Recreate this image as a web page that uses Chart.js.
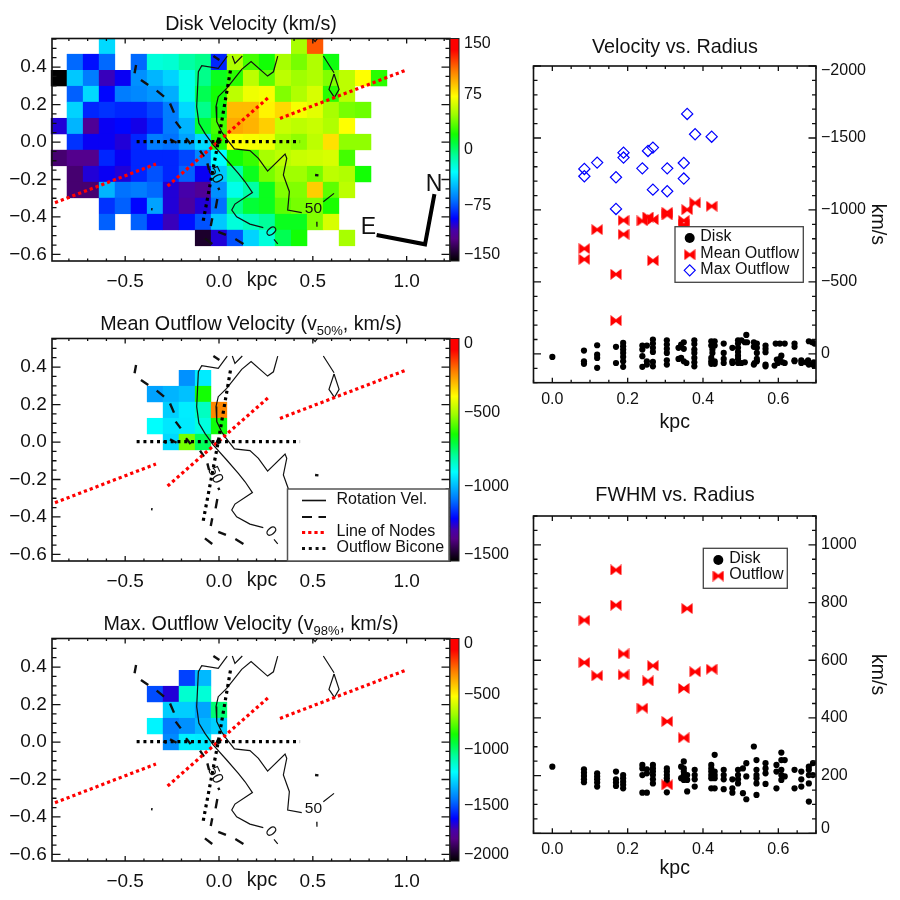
<!DOCTYPE html>
<html><head><meta charset="utf-8">
<script src="https://cdn.jsdelivr.net/npm/chart.js@4/dist/chart.umd.min.js"></script>
<style>html,body{margin:0;padding:0;background:#fff;width:900px;height:900px;overflow:hidden}
canvas{position:absolute}</style></head><body>
<canvas id="c1" width="520" height="300" style="left:0;top:0"></canvas>
<canvas id="c2" width="520" height="300" style="left:0;top:300px"></canvas>
<canvas id="c3" width="520" height="300" style="left:0;top:600px"></canvas>
<canvas id="c4" width="400" height="450" style="left:500px;top:0"></canvas>
<canvas id="c5" width="400" height="450" style="left:500px;top:450px"></canvas>
<script>
// ---------- DATA ----------
const cellX = [-0.853,-0.768,-0.682,-0.597,-0.512,-0.427,-0.341,-0.256,-0.171,-0.085,0,0.085,0.171,0.256,0.341,0.427,0.512,0.597,0.682,0.768,0.853];
const cellY = [0.512,0.427,0.341,0.256,0.171,0.085,0,-0.085,-0.171,-0.256,-0.341,-0.427,-0.512];
const _ = null;
const diskVelocityGrid = [
 [_,_,_,-40,_,_,_,_,_,_,_,_,_,_,_,50,115,_,_,_,_],
 [_,-70,-90,-70,_,-70,-22,-20,-10,-5,-85,52,30,20,50,40,52,18,_,_,_],
 [-150,-45,-65,-105,-95,-60,-50,-42,-25,-5,15,25,55,35,55,48,52,42,55,72,25],
 [_,-72,-40,-92,-65,-62,-58,-52,-25,5,20,55,68,70,42,52,62,25,55,_,_],
 [_,-42,-85,-82,-85,-85,-78,-65,-40,-5,18,90,90,75,82,70,65,50,40,38,_],
 [-100,-50,-115,-95,-92,-97,-85,-65,-50,10,30,95,92,85,58,55,58,52,72,_,_],
 [_,-82,-95,-95,-100,-85,-65,-68,-55,-40,25,72,70,68,50,45,55,80,45,45,_],
 [-125,-118,-118,-85,-95,-85,-85,-85,-78,-62,-30,20,28,50,55,58,60,62,30,_,_],
 [_,-125,-100,-95,-100,-85,-75,-85,-72,-95,-45,-12,15,40,48,48,40,55,52,20,_],
 [_,-125,-125,-50,-68,-65,-70,-100,-108,-115,-60,-25,-10,15,42,42,85,35,55,_,_],
 [_,_,_,-82,-72,-92,-55,-100,-112,-100,-68,-5,10,15,35,40,42,22,_,_,_],
 [_,_,_,-72,_,-72,-90,-105,-90,-75,-45,-22,-15,-8,15,15,42,62,_,_,_],
 [_,_,_,_,_,_,_,_,_,-140,-100,-75,-42,-22,5,20,_,_,50,_,_]
];
const meanOutflowGrid = [
 [_,_,_,_,_,_,_,_,_,_,_],[_,_,_,_,_,_,_,_,_,_,_],
 [_,_,_,_,_,_,_,_,-1049,-926,_],
 [_,_,_,_,_,_,-1026,-1002,-984,-648,_],
 [_,_,_,_,_,_,_,-965,-924,-831,-231],
 [_,_,_,_,_,_,-898,-933,-928,-863,-657],
 [_,_,_,_,_,_,_,-951,-553,-731,_]
];
const maxOutflowGrid = [
 [_,_,_,_,_,_,_,_,_,_,_],[_,_,_,_,_,_,_,_,_,_,_],
 [_,_,_,_,_,_,_,_,-1526,-1326,_],
 [_,_,_,_,_,_,-1509,-1667,-1130,-1141,_],
 [_,_,_,_,_,_,_,-1289,-1289,-1364,-1007],
 [_,_,_,_,_,_,-1218,-1433,-1398,-1329,-1285],
 [_,_,_,_,_,_,_,-1410,-1227,-1234,_]
];
const contourSolid = [[.044,.459],[-.004,.393],[-.092,.407],[-.110,.375],[-.119,.189],[-.107,.100],[-.075,.046],[-.030,-.016],[.041,-.096],[.103,-.167],[.139,-.212],[.178,-.270],[.085,-.331],[.068,-.363],[.094,-.399],[.165,-.438],[.236,-.457],_,
 [.293,-.520],[.313,-.544],_,
 [.313,.459],[.290,.375],[.259,.352],[.171,.429],[.121,.388],[.041,.286],[-.004,.242],[-.016,.189],[-.012,.109],[.014,.055],[.032,.028],[.082,-.037],[.165,-.046],[.210,-.087],[.259,-.155],[.352,-.064],[.361,-.087],[.343,-.176],[.375,-.265],[.366,-.363],[.441,-.377],_,
 [.556,-.319],[.613,-.274],_,
 [.071,.459],[.085,.420],[.124,.459],_,
 [.556,.459],[.613,.370],_,
 [.613,.363],[.586,.281],[.615,.238],[.640,.281],[.613,.363],_,
 [.499,.552],[.512,.536],[.524,.552],_,
 [.521,-.425],[.522,-.452]];
const contourDashed = [[-.442,.411],[-.450,.367],_,[-.416,.331],[-.377,.304],_,[-.332,.274],[-.293,.242],_,[-.261,.206],[-.240,.157],_,[-.231,.109],[-.204,.073],_,
 [-.297,.004],[-.279,-.004],_,[-.261,.014],[-.226,-.004],_,[-.176,.020],[-.151,-.011],_,[-.101,-.046],[-.080,-.078],_,[-.062,-.114],[-.053,-.149],_,
 [-.004,-.244],[.002,-.256],_,[-.009,-.304],[-.018,-.354],_,[-.036,-.407],[-.044,-.448],_,[-.004,-.479],[.037,-.496],_,[.087,-.518],[.130,-.544],_,
 [-.075,-.514],[-.036,-.544],_,[-.030,.459],[.002,.438],_,[.512,-.176],[.530,-.178],_,[-.362,-.358],[-.354,-.359]];
const lineOfNodes = [[-.874,-.324],[-.336,-.117],_,[-.274,-.235],[.268,.242],_,[.325,.126],[.997,.384]];
const outflowBicone = [[-.439,.002],[.432,.002],_,[-.084,-.420],[-.004,.002],[.064,.400]];
const centerPoint = [[-.004,.002]];
const compassLine = [[.840,-.496],[1.098,-.546],[1.148,-.278]];
const contourLabels = [['50',.503,-.358,0],['0',.275,-.479,50],['50',-.021,-.176,65]];

const outflowR = [.085,.085,.119,.169,.169,.189,.189,.239,.254,.267,.267,.305,.305,.349,.349,.358,.379,.423];
const meanOutflowVel = [-731,-657,-863,-553,-231,-928,-831,-924,-951,-933,-648,-984,-965,-926,-898,-1002,-1049,-1026];
const maxOutflowVel = [-1285,-1234,-1329,-1227,-1007,-1398,-1364,-1289,-1410,-1433,-1141,-1289,-1130,-1326,-1218,-1667,-1526,-1509];
const fwhmOutflowR = [.169,.169,.085,.358,.189,.085,.267,.119,.189,.379,.423,.254,.349,.239,.305,.349,.305];
const fwhmOutflow = [913,791,739,779,622,592,581,546,549,560,569,528,502,434,388,331,168];

const diskVelR = [0,.084,.084,.084,.119,.119,.119,.119,.169,.169,.188,.188,.188,.188,.188,.188,.188,.239,.239,.239,.239,.251,.251,.251,.267,.267,.267,.267,.267,.267,.304,.304,.304,.304,.304,.304,.335,.335,.342,.342,.349,.349,.349,.356,.377,.377,.377,.377,.377,.377,.377,.422,.422,.422,.422,.422,.425,.425,.431,.431,.431,.431,.455,.455,.455,.455,.478,.478,.478,.493,.493,.493,.493,.493,.493,.493,.502,.502,.511,.511,.517,.515,.535,.535,.535,.543,.543,.543,.543,.543,.537,.566,.566,.566,.566,.566,.590,.593,.604,.604,.617,.617,.599,.608,.612,.596,.643,.643,.643,.643,.661,.661,.674,.679,.681,.681,.690,.696,.694,.694];
const diskVel = [21,-23,51,69,-60,5,28,97,-49,63,-76,-53,-30,-7,21,51,90,-58,-30,16,90,-58,51,74,-100,-72,-42,-14,56,86,-95,-65,-35,-7,44,74,-42,35,-65,28,-81,-35,51,63,-95,-69,-30,-7,28,58,86,-88,-58,28,51,69,-30,-7,-88,-58,51,69,-72,-7,35,63,-42,51,63,-95,-72,-42,-14,12,35,63,-95,63,-81,58,-81,-132,-81,-49,74,-72,-42,-7,35,51,63,-58,-35,-12,74,86,81,-72,-72,35,-72,63,63,12,58,39,-72,-49,44,51,44,63,58,44,-88,74,-81,-72,58,79];
const diskFwhmR = [0,.084,.084,.084,.084,.084,.119,.119,.119,.119,.119,.169,.169,.169,.169,.188,.188,.188,.188,.188,.239,.239,.239,.239,.251,.251,.251,.267,.267,.267,.267,.267,.267,.304,.304,.304,.304,.304,.304,.349,.349,.349,.349,.349,.342,.342,.358,.358,.358,.378,.378,.378,.378,.431,.422,.422,.422,.422,.422,.422,.431,.431,.431,.431,.455,.455,.455,.455,.478,.478,.478,.493,.493,.493,.493,.515,.515,.515,.506,.506,.535,.542,.542,.542,.542,.542,.542,.566,.566,.566,.566,.595,.595,.595,.608,.608,.608,.608,.608,.617,.617,.643,.643,.661,.661,.661,.681,.681,.681,.681,.681,.692,.692];
const diskFwhm = [231,222,210,199,187,177,208,197,187,176,162,214,187,176,164,202,191,179,168,156,237,225,202,141,208,141,222,237,225,214,202,187,173,225,214,202,191,179,142,249,225,214,202,185,231,191,202,185,145,220,202,187,162,272,237,225,214,202,191,156,214,202,191,156,220,202,187,153,187,156,141,220,202,187,173,243,197,118,225,139,301,254,220,202,191,173,133,243,225,208,171,156,237,214,280,254,220,202,185,254,197,220,156,214,187,162,231,220,202,173,110,243,202];

const xTicksMap = [-0.5,0,0.5,1];
const yTicksMap = [0.4,0.2,0,-0.2,-0.4,-0.6];
const xTicksRadius = [0,0.2,0.4,0.6];
const yTicksVel = [-2000,-1500,-1000,-500,0];
const yTicksFwhm = [0,200,400,600,800,1000];
const barTicks1 = [150,75,0,-75,-150];
const barTicks2 = [0,-500,-1000,-1500];
const barTicks3 = [0,-500,-1000,-1500,-2000];

// ---------- STYLE ----------
const FONT = '"Liberation Sans", Helvetica, Arial, sans-serif';
const INK = '#111';
const RAINBOW = [[0,0,0,0],[.06,50,0,80],[.10,85,0,135],[.14,70,0,170],[.19,0,0,255],[.27,0,110,255],[.35,0,200,255],[.40,0,255,255],[.47,0,255,160],[.53,0,255,60],[.57,20,255,0],[.66,160,255,0],[.74,255,255,0],[.85,255,130,0],[.95,255,0,0],[1,255,0,0]];
function rainbow(f){
  f=Math.max(0,Math.min(1,f));
  for(let i=1;i<RAINBOW.length;i++){ if(f<=RAINBOW[i][0]){
    const a=RAINBOW[i-1],b=RAINBOW[i],t=(f-a[0])/(b[0]-a[0]);
    return `rgb(${[1,2,3].map(k=>Math.round(a[k]+(b[k]-a[k])*t)).join(',')})`;
  }}
  return 'rgb(255,0,0)';
}
const fmt = v => { const s=Math.abs(v).toString(); return (v<0?'\u2212':'')+s; };
const fmt1 = v => (v<0?'\u2212':'')+Math.abs(v).toFixed(1);

// bowtie marker
function bowtie(){
  const c=document.createElement('canvas'); c.width=12; c.height=11;
  const g=c.getContext('2d'); g.fillStyle='#ff0000';
  g.beginPath(); g.moveTo(0.5,0); g.lineTo(8,5.5); g.lineTo(0.5,11); g.closePath(); g.fill();
  g.beginPath(); g.moveTo(11.5,0); g.lineTo(4,5.5); g.lineTo(11.5,11); g.closePath(); g.fill();
  return c;
}
const BOW = bowtie();

const toPts = a => a.map(p => p ? {x:p[0],y:p[1]} : {x:NaN,y:NaN});
const lineDS = (arr,color,width,dash,order) => ({type:'scatter',showLine:true,data:toPts(arr),borderColor:color,borderWidth:width,borderDash:dash||[],pointRadius:0,fill:false,tension:0,order,spanGaps:false,borderCapStyle:'butt',borderJoinStyle:'miter'});

function cellDS(grid,vmin,vmax){
  const data=[],colors=[];
  grid.forEach((row,r)=>row.forEach((v,c)=>{ if(v!==null){ data.push({x:cellX[c],y:cellY[r]}); colors.push(rainbow((v-vmin)/(vmax-vmin))); }}));
  return {type:'scatter',data,pointStyle:'rect',pointBackgroundColor:colors,pointBorderWidth:0,order:20,clip:false,
    pointRadius:ctx=>{const s=ctx.chart.scales.x; return (s.getPixelForValue(cellX[1])-s.getPixelForValue(cellX[0]))/Math.SQRT2+0.25;}};
}

function tickSet(scale,vals){ scale.ticks = vals.map(v=>({value:v})); }

// inward ticks and frame, drawn with the library's scales
function frame(ch,c){
  const g=ch.ctx,A=ch.chartArea,sx=ch.scales.x,sy=ch.scales.y;
  g.save(); g.strokeStyle=INK; g.lineWidth=1.3;
  const each=(s,step,major,fn)=>{ for(let k=Math.ceil(s.min/step-1e-9);k<=Math.floor(s.max/step+1e-9);k++){ const v=k*step; const m=Math.abs(v/major-Math.round(v/major))<1e-6; fn(s.getPixelForValue(v),m);} };
  g.beginPath();
  each(sx,c.xMinor,c.xMajor,(p,m)=>{const l=m?c.tx[0]:c.tx[1]; g.moveTo(p,A.bottom); g.lineTo(p,A.bottom-l); g.moveTo(p,A.top); g.lineTo(p,A.top+l);});
  each(sy,c.yMinor,c.yMajor,(p,m)=>{const l=m?c.ty[0]:c.ty[1]; g.moveTo(A.left,p); g.lineTo(A.left+l,p); g.moveTo(A.right,p); g.lineTo(A.right-l,p);});
  g.stroke();
  g.lineWidth=1.6; g.strokeRect(A.left,A.top,A.right-A.left,A.bottom-A.top);
  g.restore();
}
function text(g,s,x,y,size,opt={}){
  g.save(); g.fillStyle='#111'; g.font=`${size}px ${FONT}`; g.textAlign=opt.align||'left'; g.textBaseline=opt.base||'alphabetic';
  g.translate(x,y); if(opt.rot) g.rotate(opt.rot*Math.PI/180); g.fillText(s,0,0); g.restore();
}
function title(g,segs,cx,base){
  g.save(); let w=0;
  segs.forEach(s=>{g.font=`${s.size}px ${FONT}`; s.w=g.measureText(s.t).width; w+=s.w;});
  let x=cx-w/2; g.fillStyle='#111'; g.textAlign='left'; g.textBaseline='alphabetic';
  segs.forEach(s=>{g.font=`${s.size}px ${FONT}`; g.fillText(s.t,x,base+(s.dy||0)); x+=s.w;});
  g.restore();
}

function mapPlugin(o){
  return {id:'map'+o.id,
   beforeDraw(ch){
     const it=ch.scales.cb.getLabelItems(ch.chartArea);
     if(!it._done){ it._done=true; it[0].options.translation[1]+=5; it[it.length-1].options.translation[1]-=6; }
   },
   afterDatasetsDraw(ch){
     const g=ch.ctx,A=ch.chartArea,cb=ch.scales.cb,sx=ch.scales.x,sy=ch.scales.y;
     frame(ch,{xMinor:.1,xMajor:.5,yMinor:.05,yMajor:.2,tx:[5,2.5],ty:[8.5,4.5]});
     // colour bar
     const y0=cb.getPixelForValue(cb.min),y1=cb.getPixelForValue(cb.max);
     const gr=g.createLinearGradient(0,y0,0,y1);
     RAINBOW.forEach(s=>gr.addColorStop(s[0],`rgb(${s[1]},${s[2]},${s[3]})`));
     g.fillStyle=gr; g.fillRect(A.right,y1,9,y0-y1);
     g.strokeStyle='#222'; g.lineWidth=1; g.strokeRect(A.right,y1,9,y0-y1);
     // title and kpc
     title(g,o.title,251,30);
     text(g,'kpc',262,286,19.5,{align:'center'});
     // contour labels
     contourLabels.forEach(l=>{ text(g,l[0],sx.getPixelForValue(l[1]),sy.getPixelForValue(l[2]),15.5,{align:'center',base:'middle',rot:l[3]}); });
     if(o.compass){ text(g,'N',sx.getPixelForValue(1.146),sy.getPixelForValue(-.230),23,{align:'center',base:'middle'});
                    text(g,'E',sx.getPixelForValue(.796),sy.getPixelForValue(-.456),23,{align:'center',base:'middle'}); }
     if(o.legend){
       const L=287.5,T=189,R=449,B=261;
       g.save(); g.fillStyle='#fff'; g.fillRect(L,T,R-L,B-T); g.strokeStyle='#555'; g.lineWidth=1.5;
       g.strokeRect(L,T,R-L,B-T);
       const row=(y,col,w,dash)=>{g.beginPath(); g.strokeStyle=col; g.lineWidth=w; g.setLineDash(dash); g.moveTo(302,y); g.lineTo(326,y); g.stroke(); g.setLineDash([]);};
       row(200.5,'#111',1.6,[]); row(217,'#111',2.2,[10,6.5]); row(232.5,'#f00',3.2,[3.2,3]); row(248.5,'#111',3.2,[3,3.8]);
       g.restore();
       text(g,'Rotation Vel.',336.5,199.5,16,{base:'middle'});
       text(g,'Line of Nodes',336.5,231.5,16,{base:'middle'});
       text(g,'Outflow Bicone',336.5,247.5,16,{base:'middle'});
     }
   }};
}

function mapChart(el,cfg){
  const ds=[cellDS(cfg.grid,cfg.vmin,cfg.vmax),
    lineDS(contourSolid,'#111',1.2,[],6),
    lineDS(contourDashed,'#111',2.4,[],5),
    lineDS(lineOfNodes,'#ff0000',3.2,[3.2,3],3),
    lineDS(outflowBicone,'#000',3.2,[3,3.8],2),
    {type:'scatter',data:toPts(centerPoint),pointRadius:2.4,pointBackgroundColor:'#000',pointBorderWidth:0,order:1}];
  if(cfg.compass) ds.push(lineDS(compassLine,'#000',4,[],0));
  new Chart(el,{type:'scatter',data:{datasets:ds},
    plugins:[mapPlugin({id:el,title:cfg.title,compass:cfg.compass,legend:cfg.legend})],
    options:{responsive:false,animation:false,layout:{padding:{top:38.5,left:0,right:0,bottom:0}},
     plugins:{legend:{display:false},tooltip:{enabled:false},title:{display:false}},
     scales:{
      x:{type:'linear',min:-0.89,max:1.231,position:'bottom',border:{display:false},grid:{display:false,drawTicks:false},
         afterFit:s=>{s.height=39;},afterBuildTicks:s=>tickSet(s,xTicksMap),
         ticks:{autoSkip:false,maxRotation:0,padding:9,color:'#111',font:{family:FONT,size:19},callback:fmt1}},
      y:{type:'linear',min:-0.635,max:0.5526,position:'left',border:{display:false},grid:{display:false,drawTicks:false},
         afterFit:s=>{s.width=52;},afterBuildTicks:s=>tickSet(s,yTicksMap),
         ticks:{autoSkip:false,padding:5.3,color:'#111',font:{family:FONT,size:19},callback:fmt1}},
      cb:{axis:'y',type:'linear',display:true,min:cfg.vmin,max:cfg.vmax,position:'right',border:{display:false},grid:{display:false,drawTicks:false},
         afterFit:s=>{s.width=70;},afterBuildTicks:s=>tickSet(s,cfg.barTicks),
         ticks:{autoSkip:false,padding:14,color:'#111',font:{family:FONT,size:16},callback:fmt}}
     }}});
}

function scatterPlugin(o){
  return {id:'sc'+o.id,
   beforeDraw(ch){ const it=ch.scales.y.getLabelItems(ch.chartArea); if(!it._done){ it._done=true; o.shift(it);} },
   afterDatasetsDraw(ch){
     const g=ch.ctx;
     frame(ch,{xMinor:.05,xMajor:.2,yMinor:o.yMinor,yMajor:o.yMajor,tx:[5,3],ty:[7.5,4]});
     title(g,[{t:o.title,size:19.8}],175,o.base);
     const b=o.box; g.save(); g.fillStyle='#fff'; g.fillRect(b[0],b[1],b[2]-b[0],b[3]-b[1]);
     g.strokeStyle='#444'; g.lineWidth=1.3; g.strokeRect(b[0],b[1],b[2]-b[0],b[3]-b[1]);
     o.rows.forEach(r=>{
       if(r.k==='disk'){ g.fillStyle='#000'; g.beginPath(); g.arc(o.mx,r.y,5,0,7); g.fill(); }
       if(r.k==='bow'){ g.drawImage(BOW,o.mx-6,r.y-5.5); }
       if(r.k==='dia'){ g.strokeStyle='#0000ff'; g.lineWidth=1.2; g.beginPath(); g.moveTo(o.mx-5.5,r.y); g.lineTo(o.mx,r.y-5.5); g.lineTo(o.mx+5.5,r.y); g.lineTo(o.mx,r.y+5.5); g.closePath(); g.stroke(); }
       text(g,r.t,o.tx,r.y-1,16,{base:'middle'});
     });
     g.restore();
   }};
}
function scatterChart(el,cfg){
  new Chart(el,{type:'scatter',data:{datasets:cfg.datasets},
    plugins:[scatterPlugin(Object.assign({id:el},cfg.deco))],
    options:{responsive:false,animation:false,layout:{padding:{top:66,left:33.5,right:0,bottom:0}},
     plugins:{legend:{display:false},tooltip:{enabled:false},title:{display:false}},
     scales:{
      x:{type:'linear',min:-0.05,max:0.7,position:'bottom',border:{display:false},grid:{display:false,drawTicks:false},
         afterFit:s=>{s.height=cfg.botH;},afterBuildTicks:s=>tickSet(s,xTicksRadius),
         title:{display:true,text:'kpc',color:'#111',font:{family:FONT,size:19.5},padding:{top:0,bottom:cfg.kpcPad}},
         ticks:{autoSkip:false,maxRotation:0,padding:7,color:'#111',font:{family:FONT,size:16},callback:fmt1}},
      y:{type:'linear',min:cfg.ymin,max:cfg.ymax,reverse:cfg.rev,position:'right',border:{display:false},grid:{display:false,drawTicks:false},
         afterFit:s=>{s.width=84;},afterBuildTicks:s=>tickSet(s,cfg.yTicks),
         title:{display:true,text:'km/s',color:'#111',font:{family:FONT,size:19.5},padding:{top:11,bottom:0}},
         ticks:{autoSkip:false,padding:5,color:'#111',font:{family:FONT,size:16},callback:fmt}}
     }}});
}

const sub = (a,b,c) => [{t:a,size:19.7},{t:b,size:13,dy:5},{t:c,size:19.7}];
mapChart('c1',{grid:diskVelocityGrid,vmin:-150,vmax:150,barTicks:barTicks1,title:[{t:'Disk Velocity (km/s)',size:19.7}],compass:true});
mapChart('c2',{grid:meanOutflowGrid,vmin:-1500,vmax:0,barTicks:barTicks2,title:sub('Mean Outflow Velocity (v','50%',', km/s)'),legend:true});
mapChart('c3',{grid:maxOutflowGrid,vmin:-2000,vmax:0,barTicks:barTicks3,title:sub('Max. Outflow Velocity (v','98%',', km/s)')});

const xy=(xs,ys)=>xs.map((x,i)=>({x,y:ys[i]}));
const dots=(xs,ys)=>({type:'scatter',data:xy(xs,ys),pointRadius:3.1,pointBackgroundColor:'#000',pointBorderWidth:0,order:3});
const bows=(xs,ys)=>({type:'scatter',data:xy(xs,ys),pointStyle:BOW,pointRadius:6,order:2});
const dias=(xs,ys)=>({type:'scatter',data:xy(xs,ys),pointStyle:'rectRot',pointRadius:5.6,pointBackgroundColor:'rgba(0,0,0,0)',pointBorderColor:'#0000ff',pointBorderWidth:1.2,order:1});

scatterChart('c4',{datasets:[dots(diskVelR,diskVel),bows(outflowR,meanOutflowVel),dias(outflowR,maxOutflowVel)],
  ymin:-2000,ymax:200,rev:true,yTicks:yTicksVel,botH:67.3,kpcPad:16,
  deco:{title:'Velocity vs. Radius',base:53.3,yMinor:100,yMajor:500,shift:it=>{it[0].options.translation[1]+=4.5;},
    box:[175,226.7,303.3,282.3],mx:189.7,tx:200.3,rows:[{k:'disk',t:'Disk',y:238},{k:'bow',t:'Mean Outflow',y:254.7},{k:'dia',t:'Max Outflow',y:270.3}]}});
scatterChart('c5',{datasets:[dots(diskFwhmR,diskFwhm),bows(fwhmOutflowR,fwhmOutflow)],
  ymin:0,ymax:1100,rev:false,yTicks:yTicksFwhm,botH:66.7,kpcPad:20,
  deco:{title:'FWHM vs. Radius',base:51,yMinor:50,yMajor:200,shift:it=>{it[0].options.translation[1]-=5;},
    box:[203.3,98.3,287.3,138.3],mx:218.3,tx:229.3,rows:[{k:'disk',t:'Disk',y:110},{k:'bow',t:'Outflow',y:126}]}});
</script></body></html>
